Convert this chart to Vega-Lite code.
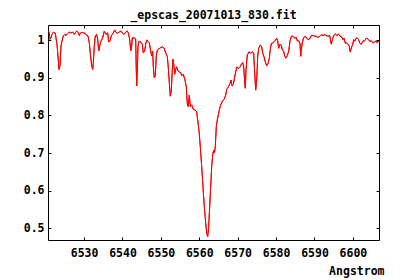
{
  "$schema": "https://vega.github.io/schema/vega-lite/v6.json",
  "width": 331,
  "height": 215,
  "autosize": "none",
  "padding": {"left": 48, "top": 25, "right": 21, "bottom": 40},
  "background": "white",
  "title": {"text": "_epscas_20071013_830.fit", "font": "DejaVu Sans Mono", "fontSize": 11.5, "fontWeight": "bold", "color": "black", "offset": 3},
  "config": {
    "view": {"stroke": "black", "strokeWidth": 1},
    "axis": {"labelFont": "DejaVu Sans Mono", "labelFontSize": 11.5, "labelFontWeight": "bold", "labelColor": "black", "titleFont": "DejaVu Sans Mono", "titleFontSize": 11.5, "titleFontWeight": "bold", "titleColor": "black", "domain": false, "grid": false, "tickColor": "black", "tickSize": -3, "tickWidth": 1}
  },
  "data": {"values": [
    {"w": 6520.78, "f": 1.024}, {"w": 6520.94, "f": 1.019}, {"w": 6521.12, "f": 1.002}, {"w": 6521.38, "f": 1.006},
    {"w": 6521.64, "f": 1.015}, {"w": 6521.98, "f": 1.021}, {"w": 6522.24, "f": 1.019}, {"w": 6522.5, "f": 1.019},
    {"w": 6522.68, "f": 1.006}, {"w": 6522.94, "f": 0.989}, {"w": 6523.2, "f": 0.958}, {"w": 6523.46, "f": 0.922},
    {"w": 6523.72, "f": 0.931}, {"w": 6523.98, "f": 0.984}, {"w": 6524.24, "f": 0.997}, {"w": 6524.58, "f": 1.011},
    {"w": 6524.95, "f": 1.015}, {"w": 6525.29, "f": 1.012}, {"w": 6525.73, "f": 1.018}, {"w": 6526.15, "f": 1.021},
    {"w": 6526.59, "f": 1.019}, {"w": 6527.03, "f": 1.021}, {"w": 6527.45, "f": 1.015}, {"w": 6527.71, "f": 1.019},
    {"w": 6528.07, "f": 1.024}, {"w": 6528.59, "f": 1.019}, {"w": 6528.75, "f": 1.012}, {"w": 6529.01, "f": 1.018},
    {"w": 6529.45, "f": 1.021}, {"w": 6529.79, "f": 1.019}, {"w": 6530.31, "f": 1.018}, {"w": 6530.68, "f": 1.012},
    {"w": 6531.02, "f": 1.011}, {"w": 6531.35, "f": 0.993}, {"w": 6531.61, "f": 0.966}, {"w": 6531.98, "f": 0.931},
    {"w": 6532.24, "f": 0.922}, {"w": 6532.4, "f": 0.94}, {"w": 6532.66, "f": 0.984}, {"w": 6532.92, "f": 1.011},
    {"w": 6533.28, "f": 1.015}, {"w": 6533.54, "f": 1.002}, {"w": 6533.8, "f": 0.971}, {"w": 6534.06, "f": 0.984},
    {"w": 6534.4, "f": 0.997}, {"w": 6534.84, "f": 1.006}, {"w": 6535.26, "f": 1.024}, {"w": 6535.7, "f": 1.015},
    {"w": 6536.15, "f": 1.019}, {"w": 6536.41, "f": 0.995}, {"w": 6536.74, "f": 0.997}, {"w": 6537.08, "f": 1.011},
    {"w": 6537.6, "f": 1.019}, {"w": 6537.97, "f": 1.027}, {"w": 6538.23, "f": 1.021}, {"w": 6538.65, "f": 1.018},
    {"w": 6539.09, "f": 1.021}, {"w": 6539.53, "f": 1.024}, {"w": 6539.95, "f": 1.019}, {"w": 6540.39, "f": 1.015},
    {"w": 6540.83, "f": 1.021}, {"w": 6541.25, "f": 1.024}, {"w": 6541.51, "f": 1.019}, {"w": 6541.87, "f": 1.002},
    {"w": 6542.14, "f": 0.971}, {"w": 6542.4, "f": 0.984}, {"w": 6542.55, "f": 1.006}, {"w": 6543.0, "f": 1.006},
    {"w": 6543.44, "f": 1.003}, {"w": 6543.59, "f": 0.922}, {"w": 6543.7, "f": 0.878}, {"w": 6543.85, "f": 0.918},
    {"w": 6544.04, "f": 0.984}, {"w": 6544.3, "f": 0.997}, {"w": 6544.74, "f": 0.995}, {"w": 6545.16, "f": 0.989},
    {"w": 6545.42, "f": 0.966}, {"w": 6545.78, "f": 0.971}, {"w": 6546.04, "f": 0.989}, {"w": 6546.3, "f": 1.0},
    {"w": 6546.64, "f": 0.997}, {"w": 6546.98, "f": 0.993}, {"w": 6547.34, "f": 0.971}, {"w": 6547.6, "f": 0.958},
    {"w": 6547.86, "f": 0.971}, {"w": 6548.02, "f": 0.931}, {"w": 6548.28, "f": 0.9}, {"w": 6548.54, "f": 0.905},
    {"w": 6548.8, "f": 0.958}, {"w": 6549.06, "f": 0.973}, {"w": 6549.51, "f": 0.977}, {"w": 6549.95, "f": 0.98},
    {"w": 6550.36, "f": 0.982}, {"w": 6550.81, "f": 0.979}, {"w": 6551.25, "f": 0.966}, {"w": 6551.67, "f": 0.956},
    {"w": 6551.93, "f": 0.927}, {"w": 6552.19, "f": 0.887}, {"w": 6552.45, "f": 0.851}, {"w": 6552.71, "f": 0.865},
    {"w": 6552.97, "f": 0.922}, {"w": 6553.15, "f": 0.949}, {"w": 6553.41, "f": 0.931}, {"w": 6553.59, "f": 0.909},
    {"w": 6553.85, "f": 0.922}, {"w": 6554.11, "f": 0.929}, {"w": 6554.45, "f": 0.918}, {"w": 6554.79, "f": 0.915},
    {"w": 6555.16, "f": 0.913}, {"w": 6555.49, "f": 0.905}, {"w": 6555.83, "f": 0.909}, {"w": 6556.28, "f": 0.894},
    {"w": 6556.61, "f": 0.876}, {"w": 6556.87, "f": 0.832}, {"w": 6557.14, "f": 0.823}, {"w": 6557.4, "f": 0.854},
    {"w": 6557.66, "f": 0.823}, {"w": 6558.02, "f": 0.828}, {"w": 6558.44, "f": 0.816}, {"w": 6558.88, "f": 0.814},
    {"w": 6559.32, "f": 0.81}, {"w": 6559.58, "f": 0.788}, {"w": 6559.92, "f": 0.761}, {"w": 6560.26, "f": 0.717},
    {"w": 6560.63, "f": 0.664}, {"w": 6560.96, "f": 0.611}, {"w": 6561.3, "f": 0.558}, {"w": 6561.67, "f": 0.514},
    {"w": 6561.93, "f": 0.487}, {"w": 6562.19, "f": 0.478}, {"w": 6562.45, "f": 0.505}, {"w": 6562.71, "f": 0.558},
    {"w": 6562.97, "f": 0.611}, {"w": 6563.23, "f": 0.664}, {"w": 6563.49, "f": 0.695}, {"w": 6563.75, "f": 0.708},
    {"w": 6563.96, "f": 0.7}, {"w": 6564.17, "f": 0.717}, {"w": 6564.43, "f": 0.77}, {"w": 6564.69, "f": 0.788},
    {"w": 6564.95, "f": 0.801}, {"w": 6565.21, "f": 0.814}, {"w": 6565.57, "f": 0.828}, {"w": 6566.09, "f": 0.839},
    {"w": 6566.51, "f": 0.843}, {"w": 6566.88, "f": 0.854}, {"w": 6567.14, "f": 0.869}, {"w": 6567.55, "f": 0.875},
    {"w": 6567.99, "f": 0.885}, {"w": 6568.26, "f": 0.894}, {"w": 6568.52, "f": 0.878}, {"w": 6568.85, "f": 0.881},
    {"w": 6569.11, "f": 0.896}, {"w": 6569.38, "f": 0.91}, {"w": 6569.74, "f": 0.928}, {"w": 6570.16, "f": 0.925},
    {"w": 6570.6, "f": 0.928}, {"w": 6570.86, "f": 0.934}, {"w": 6571.3, "f": 0.94}, {"w": 6571.56, "f": 0.929},
    {"w": 6571.82, "f": 0.889}, {"w": 6571.98, "f": 0.872}, {"w": 6572.16, "f": 0.92}, {"w": 6572.5, "f": 0.96},
    {"w": 6572.94, "f": 0.969}, {"w": 6573.39, "f": 0.965}, {"w": 6573.8, "f": 0.969}, {"w": 6574.17, "f": 0.965},
    {"w": 6574.43, "f": 0.912}, {"w": 6574.69, "f": 0.867}, {"w": 6574.95, "f": 0.894}, {"w": 6575.21, "f": 0.956},
    {"w": 6575.47, "f": 0.978}, {"w": 6575.89, "f": 0.987}, {"w": 6576.25, "f": 0.982}, {"w": 6576.51, "f": 0.965},
    {"w": 6576.85, "f": 0.956}, {"w": 6577.19, "f": 0.942}, {"w": 6577.55, "f": 0.931}, {"w": 6577.89, "f": 0.938},
    {"w": 6578.23, "f": 0.951}, {"w": 6578.41, "f": 0.969}, {"w": 6578.75, "f": 0.991}, {"w": 6579.27, "f": 0.993},
    {"w": 6579.71, "f": 0.998}, {"w": 6580.16, "f": 1.005}, {"w": 6580.42, "f": 0.998}, {"w": 6580.68, "f": 0.978},
    {"w": 6581.02, "f": 0.989}, {"w": 6581.35, "f": 0.987}, {"w": 6581.61, "f": 0.974}, {"w": 6581.98, "f": 0.97},
    {"w": 6582.24, "f": 0.957}, {"w": 6582.58, "f": 0.952}, {"w": 6582.92, "f": 0.959}, {"w": 6583.28, "f": 0.97},
    {"w": 6583.62, "f": 0.997}, {"w": 6583.96, "f": 1.01}, {"w": 6584.4, "f": 1.01}, {"w": 6584.84, "f": 1.005},
    {"w": 6585.26, "f": 1.007}, {"w": 6585.52, "f": 0.998}, {"w": 6585.89, "f": 0.998}, {"w": 6586.22, "f": 0.992},
    {"w": 6586.41, "f": 0.957}, {"w": 6586.56, "f": 0.974}, {"w": 6586.82, "f": 0.992}, {"w": 6587.19, "f": 1.007},
    {"w": 6587.6, "f": 1.01}, {"w": 6587.97, "f": 1.005}, {"w": 6588.31, "f": 1.001}, {"w": 6588.75, "f": 1.003},
    {"w": 6589.17, "f": 1.012}, {"w": 6589.61, "f": 1.012}, {"w": 6590.05, "f": 1.01}, {"w": 6590.47, "f": 1.01},
    {"w": 6590.91, "f": 1.007}, {"w": 6591.35, "f": 1.01}, {"w": 6591.77, "f": 1.014}, {"w": 6592.21, "f": 1.012},
    {"w": 6592.66, "f": 1.014}, {"w": 6593.07, "f": 1.012}, {"w": 6593.52, "f": 1.01}, {"w": 6593.96, "f": 1.012},
    {"w": 6594.38, "f": 0.989}, {"w": 6594.64, "f": 1.001}, {"w": 6595.0, "f": 1.012}, {"w": 6595.42, "f": 1.016},
    {"w": 6595.86, "f": 1.012}, {"w": 6596.3, "f": 1.016}, {"w": 6596.64, "f": 1.01}, {"w": 6596.98, "f": 1.01},
    {"w": 6597.42, "f": 1.001}, {"w": 6597.68, "f": 1.005}, {"w": 6598.02, "f": 0.992}, {"w": 6598.46, "f": 0.992},
    {"w": 6598.8, "f": 0.988}, {"w": 6599.06, "f": 0.983}, {"w": 6599.32, "f": 0.968}, {"w": 6599.58, "f": 0.979},
    {"w": 6599.95, "f": 0.988}, {"w": 6600.21, "f": 1.001}, {"w": 6600.47, "f": 0.997}, {"w": 6600.81, "f": 1.005},
    {"w": 6601.15, "f": 1.005}, {"w": 6601.51, "f": 1.001}, {"w": 6601.77, "f": 0.992}, {"w": 6602.19, "f": 0.989},
    {"w": 6602.63, "f": 0.997}, {"w": 6603.07, "f": 0.998}, {"w": 6603.49, "f": 1.005}, {"w": 6603.93, "f": 1.003},
    {"w": 6604.38, "f": 0.997}, {"w": 6604.79, "f": 0.998}, {"w": 6605.23, "f": 0.992}, {"w": 6605.68, "f": 0.995},
    {"w": 6606.09, "f": 0.998}, {"w": 6606.35, "f": 0.992}, {"w": 6606.54, "f": 0.997}, {"w": 6606.8, "f": 0.995}
  ]},
  "layer": [
    {
      "mark": {"type": "line", "color": "#ff0000", "strokeWidth": 1, "clip": true},
      "encoding": {
        "x": {"field": "w", "type": "quantitative", "scale": {"domain": [6520.6, 6606.8], "nice": false, "zero": false},
          "axis": {"orient": "bottom", "values": [6530, 6540, 6550, 6560, 6570, 6580, 6590, 6600], "format": "d", "labelPadding": 10, "title": "Angstrom", "titleAnchor": "end", "titleAlign": "right", "titleX": 336, "titleY": 31, "titleBaseline": "middle"}},
        "y": {"field": "f", "type": "quantitative", "scale": {"domain": [0.469, 1.04], "nice": false, "zero": false},
          "axis": {"orient": "left", "values": [0.5, 0.6, 0.7, 0.8, 0.9, 1], "format": "~g", "labelPadding": 7, "title": null}}
      }
    },
    {
      "mark": {"type": "line", "color": "#ff0000", "strokeWidth": 1, "clip": true},
      "encoding": {
        "x": {"field": "w", "type": "quantitative", "scale": {"domain": [6520.6, 6606.8], "nice": false, "zero": false},
          "axis": {"orient": "top", "values": [6530, 6540, 6550, 6560, 6570, 6580, 6590, 6600], "labels": false, "title": null}},
        "y": {"field": "f", "type": "quantitative", "scale": {"domain": [0.469, 1.04], "nice": false, "zero": false},
          "axis": {"orient": "right", "values": [0.5, 0.6, 0.7, 0.8, 0.9, 1], "labels": false, "title": null}}
      }
    }
  ],
  "resolve": {"axis": {"x": "independent", "y": "independent"}}
}
